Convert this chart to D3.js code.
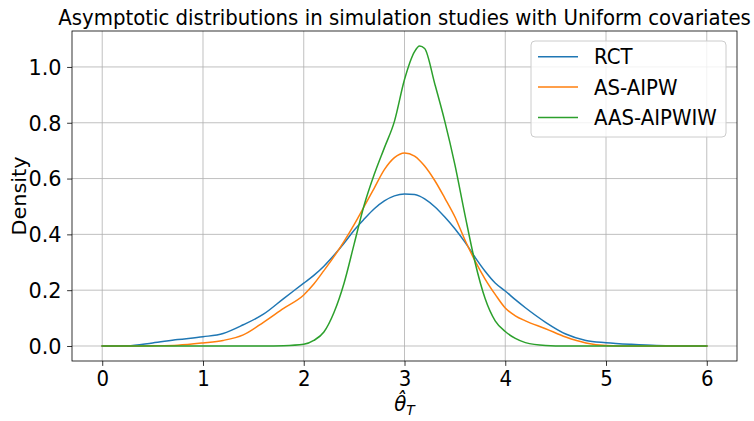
<!DOCTYPE html>
<html><head><meta charset="utf-8">
<script src="https://cdn.jsdelivr.net/npm/d3@7"></script>
<style>body{margin:0;background:#fff}</style>
</head><body>
<script>
const xs = [0, 0.25, 0.5, 0.75, 1.0, 1.2, 1.4, 1.6, 1.8, 2.0, 2.1, 2.2, 2.3, 2.4, 2.5, 2.6, 2.7, 2.8, 2.9, 3.0, 3.1, 3.15, 3.2, 3.3, 3.4, 3.5, 3.6, 3.7, 3.8, 3.9, 4.0, 4.1, 4.2, 4.4, 4.6, 4.8, 5.0, 5.25, 5.5, 6.0];
const rct = [0, 0.0005, 0.011, 0.023, 0.033, 0.045, 0.076, 0.114, 0.17, 0.225, 0.253, 0.286, 0.325, 0.368, 0.415, 0.455, 0.492, 0.52, 0.538, 0.545, 0.543, 0.537, 0.527, 0.499, 0.462, 0.42, 0.372, 0.318, 0.268, 0.226, 0.197, 0.166, 0.137, 0.085, 0.043, 0.02, 0.012, 0.006, 0.002, 0];
const asAipw = [0, 0, 0.001, 0.003, 0.011, 0.020, 0.04, 0.085, 0.135, 0.183, 0.222, 0.27, 0.32, 0.375, 0.435, 0.50, 0.566, 0.632, 0.675, 0.692, 0.68, 0.665, 0.645, 0.593, 0.53, 0.463, 0.38, 0.305, 0.24, 0.185, 0.136, 0.108, 0.09, 0.062, 0.032, 0.011, 0.002, 0, 0, 0];
const aasAipwiw = [0, 0, 0, 0, 0, 0, 0, 0, 0.001, 0.006, 0.02, 0.05, 0.12, 0.225, 0.365, 0.505, 0.615, 0.71, 0.805, 0.955, 1.055, 1.075, 1.066, 0.94, 0.805, 0.65, 0.47, 0.30, 0.17, 0.09, 0.052, 0.027, 0.012, 0.002, 0, 0, 0, 0, 0, 0];
const seriesNames = ["RCT", "AS-AIPW", "AAS-AIPWIW"];
const seriesColors = ["#1f77b4", "#ff7f0e", "#2ca02c"];
const xTicks = [0, 1, 2, 3, 4, 5, 6];
const yTicks = [0.0, 0.2, 0.4, 0.6, 0.8, 1.0];
const titleText = "Asymptotic distributions in simulation studies with Uniform covariates";

const W = 754, H = 421;
const K = 0.95; // horizontal text compression
const FS = 20.8;
const L = 72, R = 737, T = 31, B = 361;
const x = d3.scaleLinear().domain([-0.3, 6.3]).range([L, R]);
const y = d3.scaleLinear().domain([-0.0538, 1.1288]).range([B, T]);

const svg = d3.select("body").append("svg").attr("width", W).attr("height", H)
  .style("font-family", "DejaVu Sans");

// grid
const grid = svg.append("g");
grid.selectAll("line.gx").data(xTicks).join("line")
  .attr("x1", d => x(d)).attr("x2", d => x(d)).attr("y1", T).attr("y2", B)
  .attr("stroke", "#b0b0b0").attr("stroke-width", 0.8);
grid.selectAll("line.gy").data(yTicks).join("line")
  .attr("y1", d => y(d)).attr("y2", d => y(d)).attr("x1", L).attr("x2", R)
  .attr("stroke", "#b0b0b0").attr("stroke-width", 0.8);

// axes
const xAxis = svg.append("g").attr("transform", `translate(0,${B})`)
  .call(d3.axisBottom(x).tickValues(xTicks).tickFormat(d3.format("d")).tickSize(4.9).tickPadding(4.9));
const yAxis = svg.append("g").attr("transform", `translate(${L},0)`)
  .call(d3.axisLeft(y).tickValues(yTicks).tickFormat(d3.format(".1f")).tickSize(4.9).tickPadding(4.9));
[xAxis, yAxis].forEach(a => {
  a.select(".domain").remove();
  a.selectAll(".tick line").attr("stroke", "#000").attr("stroke-width", 0.8);
  a.selectAll(".tick text").attr("fill", "#000").style("font-size", FS + "px").style("font-family", "DejaVu Sans");
});
xAxis.selectAll(".tick text").attr("dy", null).attr("y", 0)
  .attr("transform", `translate(0,24.5) scale(${K},1)`);
yAxis.selectAll(".tick text").attr("x", 0).attr("dy", "0.35em")
  .attr("transform", `translate(-10.5,0)`);

// lines
const data = [rct, asAipw, aasAipwiw];
const line = d3.line().x((d, i) => x(xs[i])).y(d => y(d)).curve(d3.curveMonotoneX);
svg.append("g").selectAll("path").data(data).join("path")
  .attr("d", d => line(d)).attr("fill", "none")
  .attr("stroke", (d, i) => seriesColors[i]).attr("stroke-width", 1.5)
  .attr("stroke-linejoin", "round").attr("stroke-linecap", "square");

// frame
svg.append("rect").attr("x", L).attr("y", T).attr("width", R - L).attr("height", B - T)
  .attr("fill", "none").attr("stroke", "#000").attr("stroke-width", 0.8);

// legend
const lg = svg.append("g");
lg.append("rect").attr("x", 531).attr("y", 41).attr("width", 195).attr("height", 96)
  .attr("rx", 4).attr("fill", "#fff").attr("fill-opacity", 0.8)
  .attr("stroke", "#cccccc").attr("stroke-width", 1);
seriesNames.forEach((n, i) => {
  const cy = 56.7 + i * 30.4;
  lg.append("line").attr("x1", 538).attr("x2", 578).attr("y1", cy).attr("y2", cy)
    .attr("stroke", seriesColors[i]).attr("stroke-width", 1.5);
  lg.append("text").attr("transform", `translate(594,${cy}) scale(${K},1)`)
    .attr("dy", "0.36em").style("font-size", FS + "px").text(n);
});

// title
svg.append("text").attr("transform", `translate(${(L + R) / 2},25) scale(${K},1)`)
  .attr("text-anchor", "middle").style("font-size", FS + "px").text(titleText);

// y label
svg.append("text").attr("transform", `translate(26,${(T + B) / 2}) rotate(-90) scale(1,${K})`)
  .attr("text-anchor", "middle").style("font-size", FS + "px").text("Density");

// x label
const xl = svg.append("text").attr("transform", `translate(${(L + R) / 2},411) scale(${K},1)`)
  .attr("text-anchor", "middle").style("font-size", FS + "px");
xl.append("tspan").style("font-style", "italic").text("\u03B8\u0302");
xl.append("tspan").style("font-style", "italic").style("font-size", (FS * 0.7) + "px")
  .attr("dy", 4).text("T");
</script>
</body></html>
